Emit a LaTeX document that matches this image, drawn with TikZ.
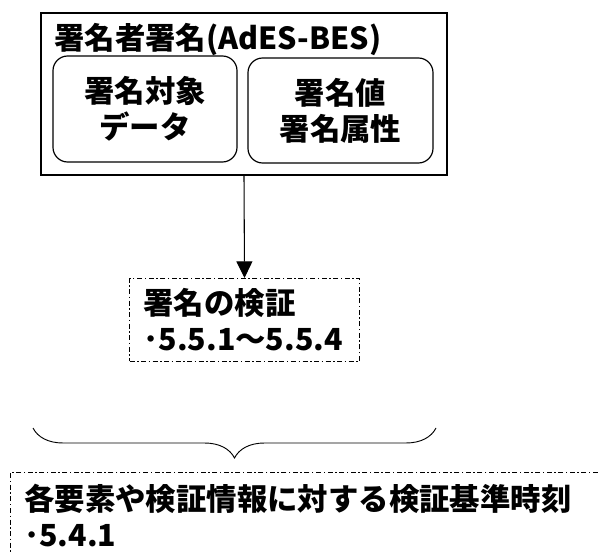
\documentclass[tikz,border=0pt]{standalone}
\usepackage{fontspec}
\setmainfont{Noto Sans CJK JP}
\usetikzlibrary{arrows.meta,decorations.pathreplacing}

\begin{document}
\begin{tikzpicture}[x=0.75pt, y=-0.75pt,
    font=\bfseries\fontsize{22.8}{27}\selectfont,
    sigbox/.style={draw, line width=1pt, inner sep=0pt},
    partbox/.style={draw, line width=0.9pt, rounded corners=11pt, align=center, inner sep=0pt},
    checkbox/.style={draw, line width=0.75pt, dash pattern=on 3.75pt off 1.9pt on 1.1pt off 1.9pt}]
  \useasboundingbox (0,0) rectangle (600,552);
  \clip (0,0) rectangle (600,552);
  % signer's signature with its two parts
  \node[sigbox, minimum width=304.5pt, minimum height=121.5pt] (sig) at (244,94) {};
  \node[anchor=north west, inner sep=0pt] (sigtitle) at (54,23) {署名者署名(AdES-BES)};
  \node[partbox, minimum width=138pt, minimum height=79.5pt] (data) at (145,109) {署名対象\\データ};
  \node[partbox, minimum width=138.75pt, minimum height=78.75pt] (value) at (340.5,110.5) {署名値\\署名属性};
  % verification
  \node[checkbox, anchor=north west, text width=151.5pt, align=left,
        inner xsep=10.5pt, inner ysep=0pt, minimum height=62.25pt] (verify) at (129,278)
        {署名の検証\\･5.5.1～5.5.4};
  \draw[-{Triangle[width=12pt,length=12.5pt]}, line width=0.8pt] (sig.south) -- (verify.north);
  % reference time
  \coordinate (braceL) at (33,428);
  \coordinate (braceR) at (436,428);
  \draw[decorate, decoration={brace, mirror, amplitude=22.5pt}, line width=0.7pt] (braceL) -- (braceR);
  \node[checkbox, anchor=north west, minimum width=465pt, minimum height=90pt] (basis) at (10,472) {};
  \node[anchor=north west, align=left, inner sep=0pt] (basistext) at (24,484)
        {各要素や検証情報に対する検証基準時刻\\･5.4.1};
\end{tikzpicture}
\end{document}
